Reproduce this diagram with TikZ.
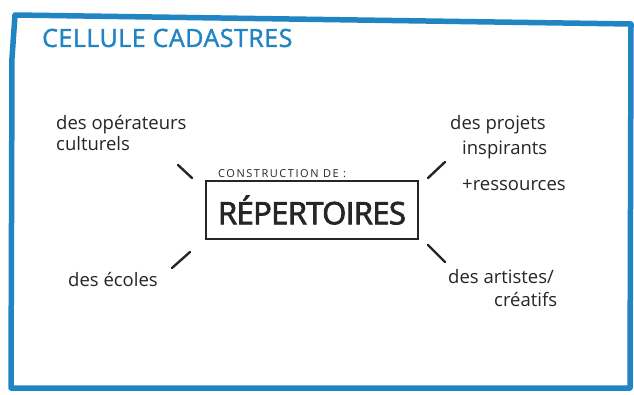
\documentclass[tikz,border=0pt]{standalone}
\usepackage{fontspec}
\setmainfont{Open Sans}
\definecolor{frameblue}{HTML}{2285C3}
\begin{document}
\begin{tikzpicture}[x=1pt,y=-1pt,
  lbl/.style={font=\fontsize{18.5}{20}\selectfont, align=left, anchor=west, inner sep=0pt, text=black!85},
  tick/.style={line width=2.4pt, line cap=round, black!85}]
\useasboundingbox (0,0) rectangle (634,395);
\fill[white] (0,0) rectangle (634,395);
% frame
\draw[frameblue, line width=5.5pt, line join=round, line cap=round]
  (15,15) -- (631,24) -- (630,388) -- (11,388) -- (12,58) -- (15,15);
\node[anchor=west, inner sep=0pt, text=frameblue, font=\fontsize{25}{27}\selectfont\addfontfeature{LetterSpace=2,FakeBold=1.5}] (title) at (42,38) {CELLULE CADASTRES};
% center
\node[draw=black!85, line width=2.6pt, minimum width=212pt, minimum height=58pt, inner sep=0pt,
  font=\fontsize{31}{34}\selectfont\addfontfeature{LetterSpace=-2,FakeBold=2.5}, text=black!85] (rep) at (312,210) {RÉPERTOIRES};
\node[anchor=south west, inner sep=0pt, font=\fontsize{11}{12}\selectfont\addfontfeature{LetterSpace=14}, text=black!85] (cons) at (218,178) {CONSTRUCTION DE :};
% ticks
\coordinate (t1a) at (178,165); \coordinate (t1b) at (192,178);
\coordinate (t2a) at (428,178); \coordinate (t2b) at (445,162);
\coordinate (t3a) at (172,268); \coordinate (t3b) at (190,252);
\coordinate (t4a) at (428,245); \coordinate (t4b) at (445,262);
\draw[tick] (t1a) -- (t1b);
\draw[tick] (t2a) -- (t2b);
\draw[tick] (t3a) -- (t3b);
\draw[tick] (t4a) -- (t4b);
% labels
\node[lbl] (op) at (56,125) {des opérateurs};
\node[lbl] (op2) at (56,144) {culturels};
\node[lbl] (pj) at (450,125) {des projets};
\node[lbl] (pj2) at (462,150) {inspirants};
\node[lbl] (pj3) at (462,185) {+ressources};
\node[lbl] (ec) at (68,280) {des écoles};
\node[lbl] (ar) at (448,277) {des artistes/};
\node[lbl] (ar2) at (494,300) {créatifs};
\end{tikzpicture}
\end{document}
